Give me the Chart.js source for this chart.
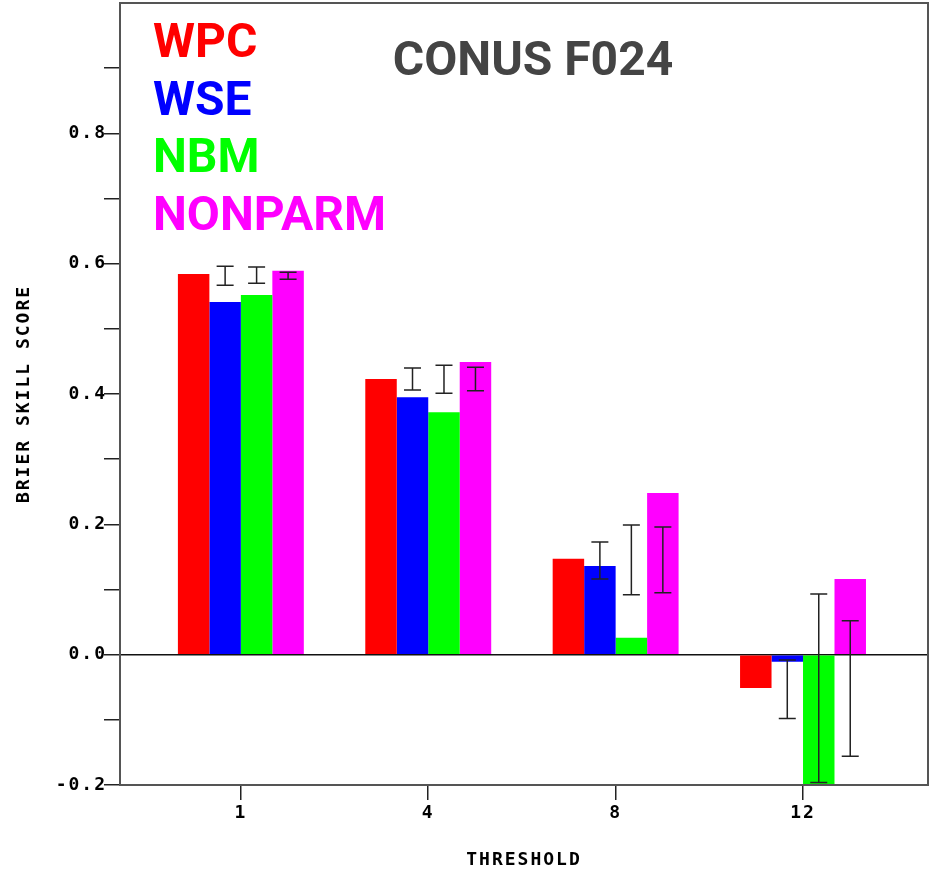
<!DOCTYPE html>
<html>
<head>
<meta charset="utf-8">
<script src="https://cdn.jsdelivr.net/npm/chart.js@4.4.0/dist/chart.umd.min.js"></script>
<style>
  body { margin: 0; background: #fff; }
  #wrap { width: 932px; height: 872px; }
</style>
</head>
<body>
<div id="wrap"><canvas id="bssChart"></canvas></div>
<script>
// thresholds shown on the x axis
const thresholds = ['1', '4', '8', '12'];
const modelos = ['WPC', 'WSE', 'NBM', 'NONPARM'];
const cores = ['#ff0000', '#0000ff', '#00ff00', '#ff00ff'];

// brier skill score per model
const wpc = [0.584, 0.423, 0.147, -0.051];
const wse = [0.541, 0.395, 0.136, -0.011];
const nbm = [0.552, 0.372, 0.026, -0.205];
const nonparm = [0.589, 0.449, 0.248, 0.116];

// error bars (low / high), none for WPC
const wseLow = [0.567, 0.406, 0.116, -0.098];
const wseHigh = [0.596, 0.440, 0.173, -0.008];
const nbmLow = [0.570, 0.401, 0.092, -0.196];
const nbmHigh = [0.595, 0.444, 0.199, 0.093];
const nonparmLow = [0.576, 0.405, 0.095, -0.156];
const nonparmHigh = [0.587, 0.441, 0.196, 0.052];

const series = [wpc, wse, nbm, nonparm];
const errLow = [null, wseLow, nbmLow, nonparmLow];
const errHigh = [null, wseHigh, nbmHigh, nonparmHigh];

const fonteMono = 'DejaVu Sans Mono';

// wide spacing for the axis text (old plotting-package look)
const espacamento = {
    id: 'espacamento',
    beforeDraw(chart) {
        chart.ctx.letterSpacing = '2px';
    }
};

// error bars drawn on top of each bar
const errorBars = {
    id: 'errorBars',
    afterDatasetsDraw(chart) {
        const ctx = chart.ctx;
        const y = chart.scales.y;
        ctx.save();
        ctx.beginPath();
        ctx.rect(chart.chartArea.left, chart.chartArea.top - 2, chart.chartArea.width, chart.chartArea.height + 2);
        ctx.clip();
        ctx.strokeStyle = '#222';
        ctx.lineWidth = 1.5;
        errLow.forEach((low, i) => {
            if (!low) return;
            const meta = chart.getDatasetMeta(i);
            meta.data.forEach((bar, j) => {
                const y1 = y.getPixelForValue(low[j]);
                const y2 = y.getPixelForValue(errHigh[i][j]);
                const x = bar.x;
                ctx.beginPath();
                ctx.moveTo(x, y1); ctx.lineTo(x, y2);
                ctx.moveTo(x - 8.5, y1); ctx.lineTo(x + 8.5, y1);
                ctx.moveTo(x - 8.5, y2); ctx.lineTo(x + 8.5, y2);
                ctx.stroke();
            });
        });
        ctx.restore();
    }
};

// frame, legend text and title inside the plot
const moldura = {
    id: 'moldura',
    afterDraw(chart) {
        const ctx = chart.ctx;
        const a = chart.chartArea;
        ctx.save();
        ctx.letterSpacing = '0px';
        ctx.strokeStyle = '#555';
        ctx.lineWidth = 2;
        ctx.strokeRect(a.left, a.top, a.right - a.left, a.bottom - a.top);
        ctx.font = 'bold 48px Roboto';
        ctx.textBaseline = 'alphabetic';
        ctx.textAlign = 'left';
        chart.data.datasets.forEach((ds, i) => {
            ctx.fillStyle = ds.backgroundColor;
            ctx.fillText(ds.label, a.left + 33, a.top + 54 + i * 57.7);
        });
        ctx.fillStyle = '#444';
        ctx.textAlign = 'center';
        ctx.fillText('CONUS F024', 533, a.top + 72);
        ctx.restore();
    }
};

const semPadding = scale => {
    scale.paddingTop = 0;
    scale.paddingBottom = 0;
    scale.paddingLeft = 0;
    scale.paddingRight = 0;
};

const ctx = document.getElementById('bssChart').getContext('2d');
new Chart(ctx, {
    type: 'bar',
    data: {
        datasets: modelos.map((nome, i) => ({
            label: nome,
            data: series[i].map((v, j) => ({ x: j + 1, y: v })),
            backgroundColor: cores[i],
            borderWidth: 0,
            categoryPercentage: 0.672,
            barPercentage: 1.0
        }))
    },
    options: {
        responsive: true,
        maintainAspectRatio: false,
        animation: false,
        layout: { padding: { top: 3, right: 4, left: 0, bottom: 0 } },
        plugins: {
            legend: { display: false },
            tooltip: { enabled: false }
        },
        scales: {
            x: {
                type: 'linear',
                offset: false,
                min: 0.355,
                max: 4.667,
                afterBuildTicks: scale => {
                    scale.ticks = [1, 2, 3, 4].map(v => ({ value: v }));
                },
                afterFit: scale => { scale.height = 87; semPadding(scale); },
                grid: {
                    offset: false,
                    drawOnChartArea: false,
                    drawTicks: true,
                    tickLength: 15,
                    tickColor: '#222',
                    lineWidth: 1.5
                },
                border: { display: true, color: '#222', width: 1.5 },
                ticks: {
                    padding: 3,
                    color: '#000',
                    font: { family: fonteMono, size: 18, weight: 'bold' },
                    callback: v => thresholds[v - 1]
                },
                title: {
                    display: true,
                    text: 'THRESHOLD',
                    color: '#000',
                    font: { family: fonteMono, size: 18, weight: 'bold' },
                    padding: { top: 0, bottom: 1 }
                }
            },
            y: {
                min: -0.2,
                max: 1.0,
                afterBuildTicks: scale => {
                    const t = [];
                    for (let k = -2; k <= 9; k++) t.push({ value: k / 10 });
                    scale.ticks = t;
                },
                afterFit: scale => { scale.width = 120; semPadding(scale); },
                grid: {
                    drawOnChartArea: true,
                    drawTicks: true,
                    tickLength: 16,
                    lineWidth: 1.5,
                    tickColor: '#222',
                    color: c => (c.tick && Math.abs(c.tick.value) < 1e-9) ? '#111' : 'rgba(0,0,0,0)'
                },
                border: { display: true, color: '#222', width: 1.5 },
                ticks: {
                    padding: -3,
                    color: '#000',
                    font: { family: fonteMono, size: 18, weight: 'bold' },
                    callback: v => {
                        const k = Math.round(v * 10);
                        return k % 2 === 0 ? (v).toFixed(1) : '';
                    }
                },
                title: {
                    display: true,
                    text: 'BRIER SKILL SCORE',
                    color: '#000',
                    font: { family: fonteMono, size: 18, weight: 'bold' },
                    padding: { top: 14, bottom: 0 }
                }
            }
        }
    },
    plugins: [espacamento, errorBars, moldura]
});
</script>
</body>
</html>
